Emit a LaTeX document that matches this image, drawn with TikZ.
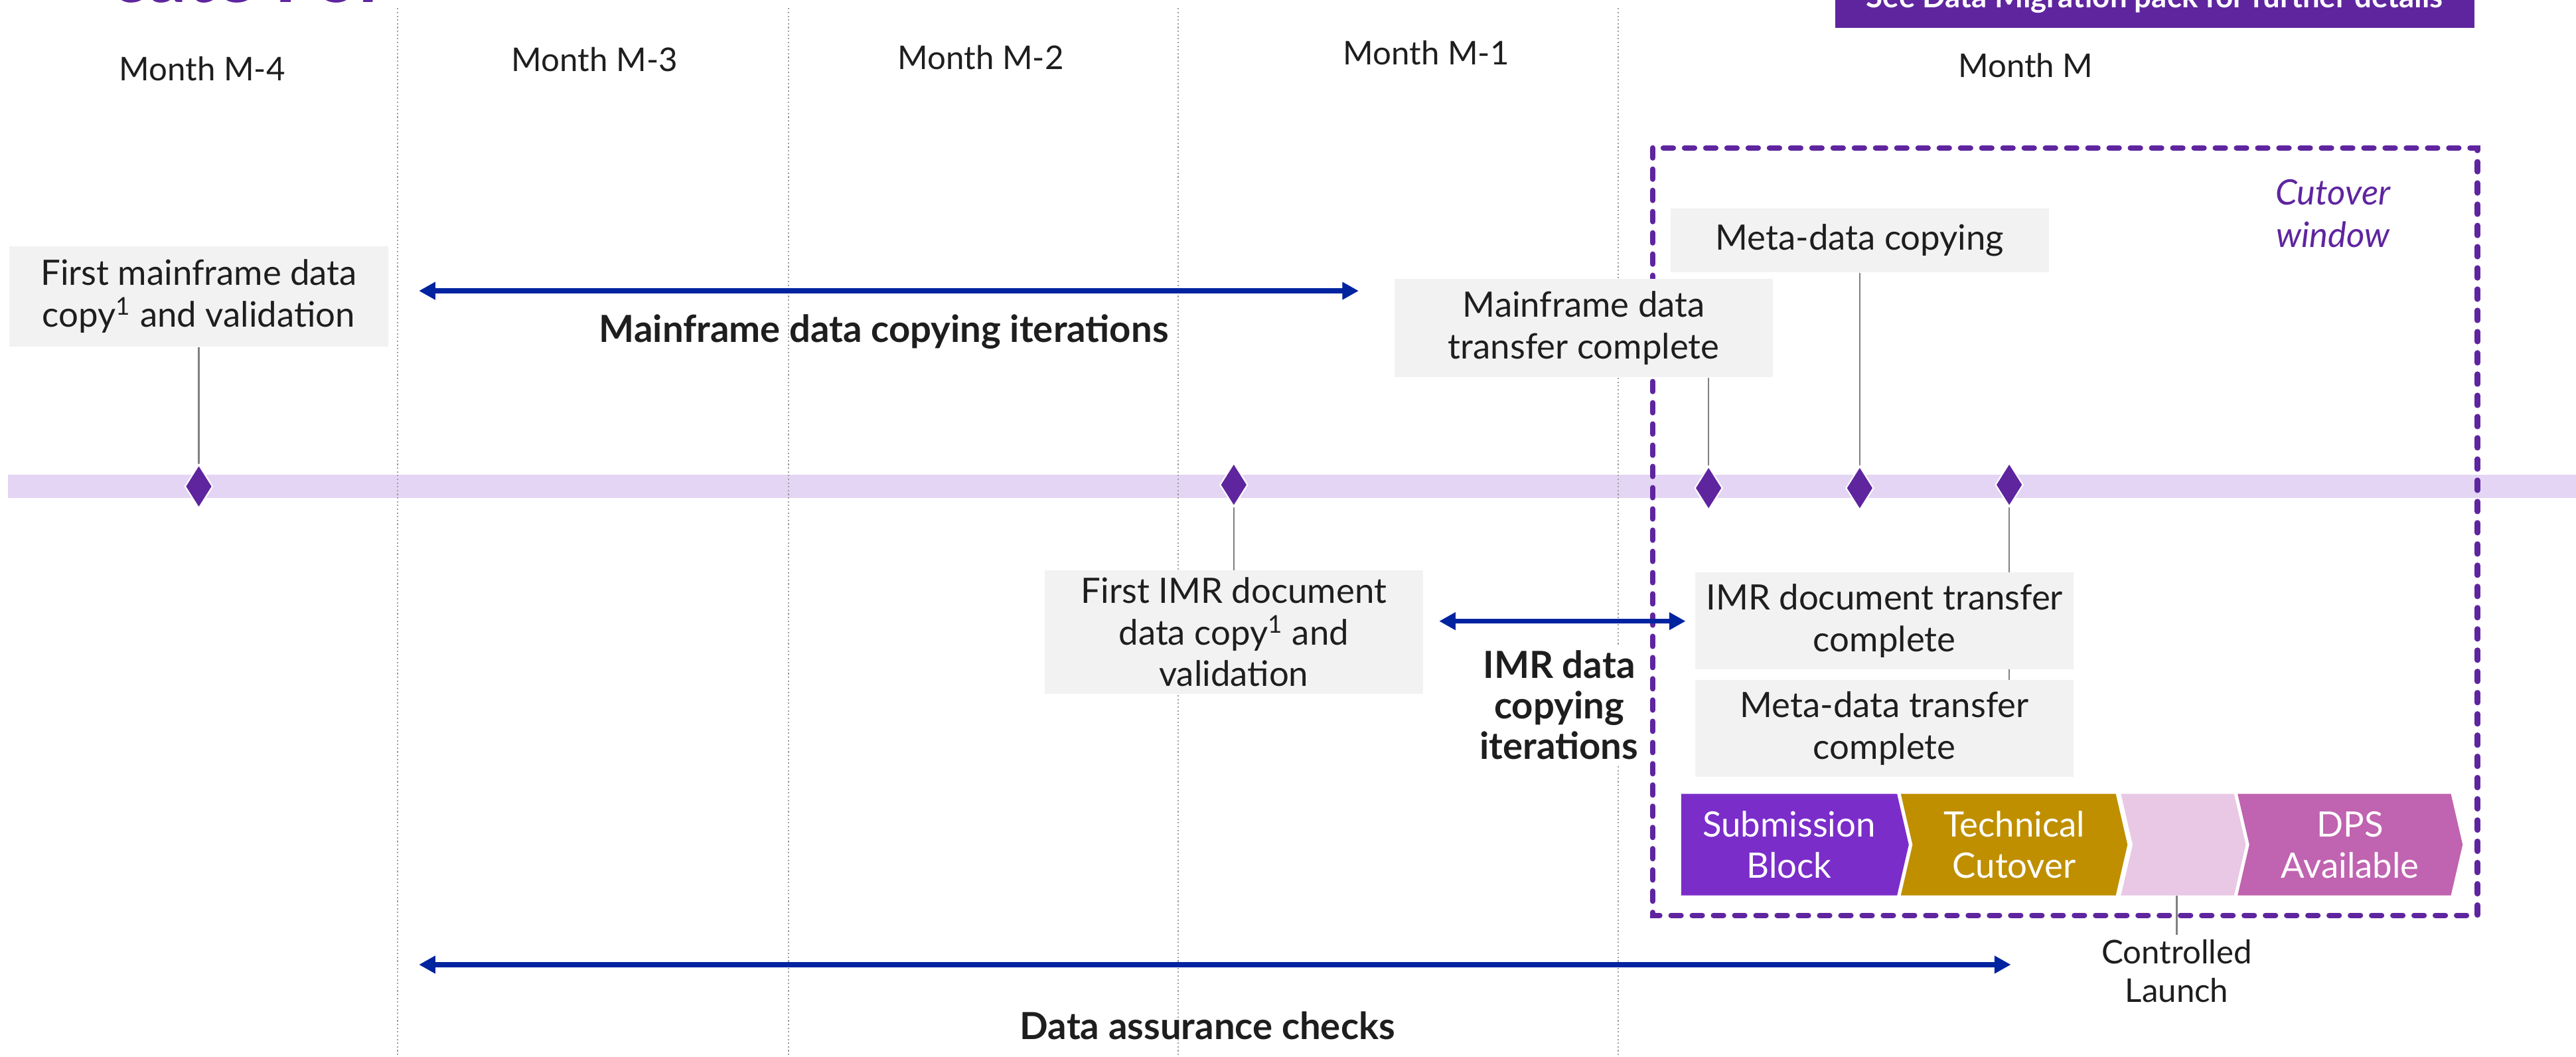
\documentclass[tikz,border=0pt]{standalone}
\usepackage{fontspec}
\setmainfont{Lato}
\usepackage{tikz}
\usetikzlibrary{shapes,arrows.meta,positioning,backgrounds}
\definecolor{ink}{RGB}{30,30,30}
\definecolor{deeppurple}{RGB}{95,37,159}
\definecolor{lavender}{RGB}{227,213,243}
\definecolor{arrowblue}{RGB}{0,35,160}
\definecolor{boxgray}{RGB}{242,242,242}
\definecolor{subm}{RGB}{123,45,201}
\definecolor{gold}{RGB}{191,143,0}
\definecolor{pale}{RGB}{232,200,228}
\definecolor{orchid}{RGB}{192,99,176}
\tikzstyle{month} = [text=ink, font=\fontsize{14}{17}\selectfont]
\tikzstyle{monthline} = [draw=gray!75, line width=0.6pt, densely dotted]
\tikzstyle{milestone} = [diamond, draw=white, line width=0.6pt, fill=deeppurple, inner sep=0pt, minimum width=0.42cm, minimum height=0.66cm]
\tikzstyle{callout} = [fill=boxgray, text=ink, align=center, inner sep=0pt, minimum width=5.7cm, font=\fontsize{15}{17.8}\selectfont]
\tikzstyle{stem} = [draw=gray, line width=0.7pt]
\tikzstyle{span} = [draw=arrowblue, line width=2.2pt, >={Triangle[length=7pt,width=7.2pt]}, <->]
\tikzstyle{spanlabel} = [text=ink, align=center, font=\bfseries\fontsize{16}{17.4}\selectfont]
\tikzstyle{cutbox} = [draw=deeppurple, line width=2.3pt, line cap=round, dash pattern=on 4.3pt off 4.8pt]
\tikzstyle{chev} = [signal, signal to=east, signal pointer angle=154, text=white, align=center, inner sep=0pt, minimum height=1.53cm, font=\fontsize{15}{17.6}\selectfont]

\begin{document}
\begin{tikzpicture}[x=0.02475cm, y=-0.02475cm]
\useasboundingbox (0,0) rectangle (1568,643);

% header =============================
\node[anchor=base west, inner sep=0pt, text=deeppurple, font=\bfseries\fontsize{33}{38}\selectfont] (title) at (67,1.3) {cate For};
\fill[deeppurple] (1117,-10) rectangle (1506,17);
\node[anchor=base, inner sep=0pt, text=white, font=\bfseries\fontsize{13}{15}\selectfont] (note) at (1311.5,4.5) {See Data Migration pack for further details};

% months
\node[month] (mon4) at (123,42) {Month M-4};
\node[month] (mon3) at (362,36) {Month M-3};
\node[month] (mon2) at (597,35) {Month M-2};
\node[month] (mon1) at (868,32) {Month M-1};
\node[month] (mon0) at (1233,40) {Month M};

% milestones on the timeline
\node[milestone] (m1) at (121,296) {};
\node[milestone] (m2) at (751,295) {};
\node[milestone] (m3) at (1040,297) {};
\node[milestone] (m4) at (1132,297) {};
\node[milestone] (m5) at (1223,295) {};

% callouts
\node[callout, minimum height=1.51cm, above=1.76cm of m1] (b1) {First mainframe data\\copy\textsuperscript{1} and validation};
\node[callout, minimum height=1.485cm, above=1.32cm of m3, xshift=-1.88cm] (b2) {Mainframe data\\transfer complete};
\node[callout, minimum height=0.965cm, above=2.9cm of m4] (b3) {Meta-data copying};
\node[callout, minimum height=1.856cm, below=0.945cm of m2] (b4) {First IMR document\\data copy\textsuperscript{1} and\\validation};
\node[callout, minimum height=1.46cm, below=0.97cm of m5, xshift=-1.88cm] (b5) {IMR document transfer\\complete};
\node[callout, minimum height=1.46cm, below=0.15cm of b5] (b6) {Meta-data transfer\\complete};

% cutover window
\node[text=deeppurple, align=center, font=\itshape\fontsize{15}{18.3}\selectfont] (cutlabel) at (1420,130) {Cutover\\window};
\node[chev, fill=subm, minimum width=3.43cm] (c1) at (1089,514) {Submission\\Block};
\node[chev, signal from=west, fill=gold, minimum width=3.415cm] (c2) at (1226,514) {Technical\\Cutover};
\node[chev, signal from=west, fill=pale, minimum width=1.88cm] (c3) at (1329,514) {};
\node[chev, signal from=west, fill=orchid, minimum width=3.39cm] (c4) at (1430.5,514) {DPS\\Available};
\node[text=ink, align=center, inner sep=2pt, font=\fontsize{14}{16.5}\selectfont] (ctrl) at (1325,591) {Controlled\\Launch};

% iterations
\coordinate (a1l) at (255,177);
\coordinate (a1r) at (827,177);
\coordinate (a2l) at (876,378);
\coordinate (a2r) at (1026,378);
\coordinate (a3l) at (255,587);
\coordinate (a3r) at (1224,587);
\node[spanlabel] (l1) at (538,202) {Mainframe data copying iterations};
\node[spanlabel, fill=white, inner sep=2pt] (l2) at (949,429) {IMR data\\copying\\iterations};
\node[spanlabel] (l3) at (735,624) {Data assurance checks};

%edges
\path[span] (a1l) -- (a1r);
\path[span] (a2l) -- (a2r);
\path[span] (a3l) -- (a3r);

\begin{scope}[on background layer]
\fill[lavender] (5,289) rectangle (1568,303);
\draw[monthline] (242,5) -- (242,643);
\draw[monthline] (480,5) -- (480,643);
\draw[monthline] (717,5) -- (717,643);
\draw[monthline] (985,5) -- (985,643);
\draw[cutbox] (1006,90) rectangle (1508,557);
\path[stem] (m1.north) -- (m1.north |- b1.south);
\path[stem] (m2.south) -- (m2.south |- b4.north);
\path[stem] (m3.north) -- (m3.north |- b2.south);
\path[stem] (m4.north) -- (m4.north |- b3.south);
\path[stem] (m5.south) -- (m5.south |- b6.north);
\path[stem] (ctrl.north) -- (ctrl.north |- c3.south);
\end{scope}

\end{tikzpicture}
\end{document}
